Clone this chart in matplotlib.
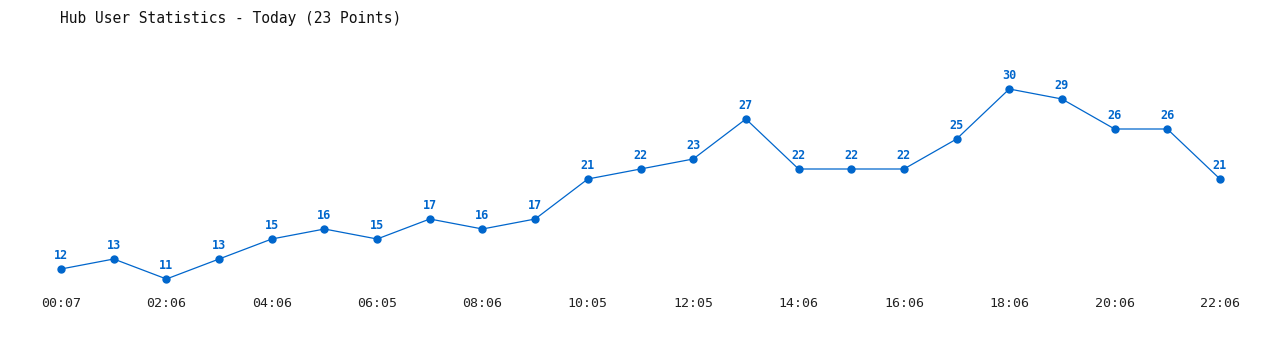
import matplotlib
matplotlib.use("Agg")
import matplotlib.pyplot as plt

# hub user counts, one point roughly every hour
users = [12, 13, 11, 13, 15, 16, 15, 17, 16, 17, 21, 22, 23, 27,
         22, 22, 22, 25, 30, 29, 26, 26, 21]
tick_labels = ["00:07", "02:06", "04:06", "06:05", "08:06", "10:05",
               "12:05", "14:06", "16:06", "18:06", "20:06", "22:06"]

BLUE = "#0066cc"
W, H = 1280, 350

fig = plt.figure(figsize=(W / 100, H / 100), dpi=100)
# axes in pixel terms: left 40, right 1240, top 60, bottom 290
ax = fig.add_axes([40 / W, 1 - 290 / H, 1200 / W, 230 / H])

x = list(range(len(users)))
ax.plot(x, users, color=BLUE, lw=0.9, marker="o", ms=5, mec=BLUE, mfc=BLUE)

for xi, v in zip(x, users):
    ax.annotate(str(v), (xi, v), xytext=(0, 5), textcoords="offset points",
                ha="center", va="bottom", color=BLUE, fontsize=8.5,
                fontweight="bold", family="DejaVu Sans Mono")

ax.set_xlim(-0.4, 22.38)
ax.set_ylim(9.9, 32.9)
ax.set_xticks(x[::2])
ax.set_xticklabels(tick_labels, family="DejaVu Sans Mono", fontsize=9.5,
                   color="#222222")
ax.tick_params(axis="x", length=0, pad=5)
ax.set_yticks([])
for s in ax.spines.values():
    s.set_visible(False)

fig.text(60 / W, 1 - 18 / H, "Hub User Statistics - Today (23 Points)",
         family="DejaVu Sans Mono", fontsize=10.5, va="center", ha="left",
         color="#111111")

fig.savefig("out.png", dpi=100)
